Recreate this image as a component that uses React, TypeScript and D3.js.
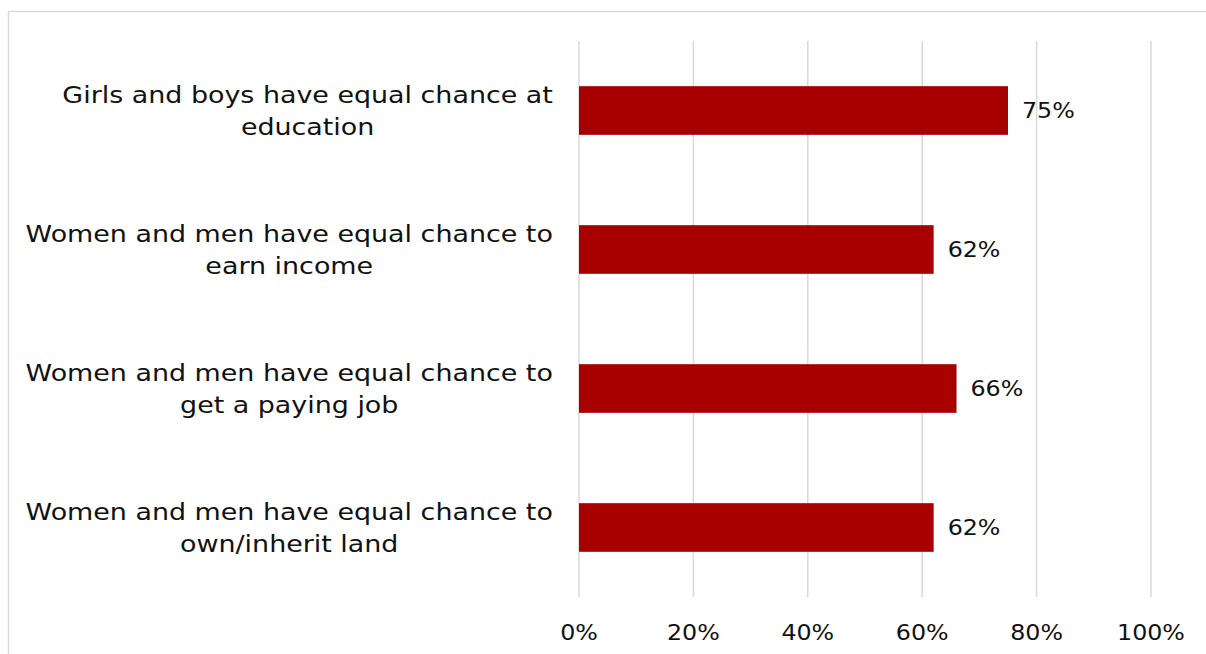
import React from "react";
import * as d3 from "d3";

const categories: string[][] = [
  ["Girls and boys have equal chance at", "education"],
  ["Women and men have equal chance to", "earn income"],
  ["Women and men have equal chance to", "get a paying job"],
  ["Women and men have equal chance to", "own/inherit land"],
];
const values: number[] = [0.75, 0.62, 0.66, 0.62];
const ticks: number[] = [0, 0.2, 0.4, 0.6, 0.8, 1.0];

const W = 1206;
const H = 654;
const FONT = "'DejaVu Sans', sans-serif";
const CAT_SIZE = 23;
const CAT_SX = 1.17;
const NUM_SIZE = 22;
const NUM_SX = 1.08;

function measure(s: string, size: number): number {
  const c = document.createElement("canvas").getContext("2d");
  if (!c) return s.length * size * 0.6;
  c.font = `${size}px 'DejaVu Sans'`;
  return c.measureText(s).width;
}

function SText(props: {
  x: number;
  y: number;
  sx: number;
  size: number;
  anchor?: string;
  children: React.ReactNode;
}) {
  return (
    <g transform={`translate(${props.x},${props.y}) scale(${props.sx},1)`}>
      <text
        x={0}
        y={0}
        dy="0.35em"
        textAnchor={props.anchor || "start"}
        fontFamily={FONT}
        fontSize={props.size}
        fill="#111"
      >
        {props.children}
      </text>
    </g>
  );
}

export default function App() {
  const x = d3.scaleLinear().domain([0, 1]).range([579, 1151]);
  const y = d3
    .scaleBand<number>()
    .domain(d3.range(categories.length))
    .range([41, 597])
    .paddingInner(0.65)
    .paddingOuter(0.325);
  const fmt = d3.format(".0%");
  const labelRight = 553;

  return (
    <svg
      width={W}
      height={H}
      style={{ position: "absolute", left: 0, top: 0, background: "#fff" }}
    >
      <rect x={8.5} y={11.5} width={W + 10} height={H + 10} fill="#fff" stroke="#d9d9d9" strokeWidth={1.5} />
      {ticks.map((t) => (
        <line key={t} x1={x(t)} x2={x(t)} y1={41} y2={597} stroke="#d9d9d9" strokeWidth={1.5} />
      ))}
      {values.map((v, i) => (
        <rect key={i} x={x(0)} y={y(i)} width={x(v) - x(0)} height={y.bandwidth()} fill="#a80000" />
      ))}
      {values.map((v, i) => (
        <SText
          key={"v" + i}
          x={x(v) + 14}
          y={(y(i) as number) + y.bandwidth() / 2}
          sx={NUM_SX}
          size={NUM_SIZE}
        >
          {fmt(v)}
        </SText>
      ))}
      {categories.map((lines, i) => {
        const cy = (y(i) as number) + y.bandwidth() / 2;
        const maxW = d3.max(lines, (l) => measure(l, CAT_SIZE) * CAT_SX) || 0;
        const cx = labelRight - maxW / 2;
        return (
          <g key={"c" + i}>
            {lines.map((l, j) => (
              <SText
                key={j}
                x={cx}
                y={cy + (j - (lines.length - 1) / 2) * 32}
                sx={CAT_SX}
                size={CAT_SIZE}
                anchor="middle"
              >
                {l}
              </SText>
            ))}
          </g>
        );
      })}
      {ticks.map((t) => (
        <SText key={"t" + t} x={x(t)} y={632} sx={NUM_SX} size={NUM_SIZE} anchor="middle">
          {fmt(t)}
        </SText>
      ))}
    </svg>
  );
}
